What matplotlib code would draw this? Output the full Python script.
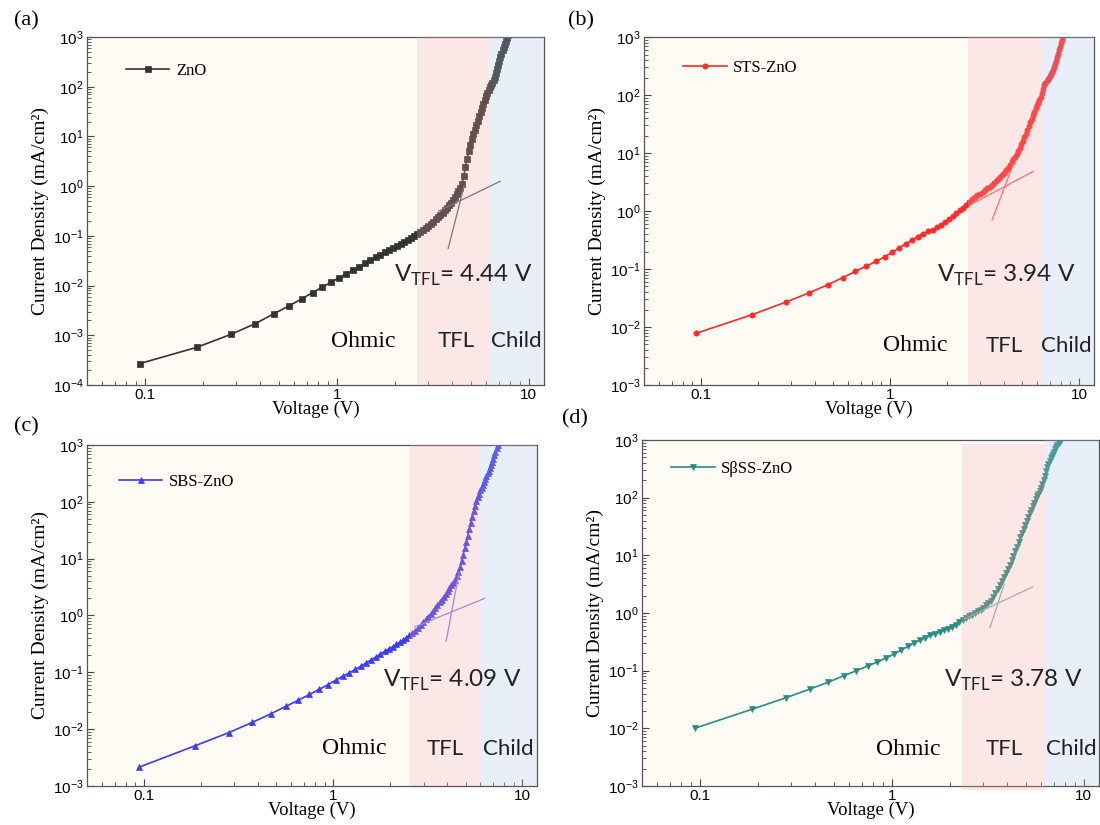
import matplotlib.pyplot as plt
import numpy as np
from matplotlib.ticker import NullFormatter

plt.rcParams['font.family'] = 'Liberation Sans'

# applied bias (V), same sweep for all four devices
voltage = [0.094, 0.187, 0.281, 0.374, 0.468, 0.561, 0.655, 0.748, 0.842, 0.935,
           1.029, 1.122, 1.216, 1.309, 1.403, 1.496, 1.590, 1.683, 1.777, 1.870,
           1.964, 2.057, 2.151, 2.244, 2.338, 2.431, 2.525, 2.618, 2.712, 2.805,
           2.899, 2.992, 3.086, 3.179, 3.273, 3.366, 3.460, 3.553, 3.647, 3.740,
           3.834, 3.927, 4.021, 4.114, 4.208, 4.301, 4.395, 4.488, 4.582, 4.675,
           4.769, 4.862, 4.956, 5.049, 5.143, 5.236, 5.330, 5.423, 5.517, 5.610,
           5.704, 5.797, 5.891, 5.984, 6.078, 6.171, 6.265, 6.358, 6.452, 6.545,
           6.639, 6.732, 6.826, 6.919, 7.013, 7.106, 7.200, 7.293, 7.387, 7.480,
           7.574, 7.667, 7.761, 7.854, 7.948, 8.041, 8.135, 8.228, 8.322]

# log10 of current density (mA/cm2)
log_j_zno = [-3.57, -3.24, -2.98, -2.77, -2.57, -2.41, -2.27, -2.14, -2.03, -1.93,
             -1.84, -1.76, -1.69, -1.62, -1.55, -1.49, -1.43, -1.38, -1.33, -1.29,
             -1.24, -1.20, -1.16, -1.12, -1.08, -1.05, -1.01, -0.97, -0.93, -0.89,
             -0.85, -0.81, -0.76, -0.72, -0.67, -0.63, -0.58, -0.53, -0.48, -0.43,
             -0.38, -0.33, -0.28, -0.22, -0.16, -0.10, -0.04, 0.05, 0.20, 0.38,
             0.55, 0.70, 0.83, 0.95, 1.05, 1.14, 1.23, 1.32, 1.41, 1.50,
             1.58, 1.66, 1.74, 1.81, 1.88, 1.94, 1.99, 2.04, 2.08, 2.13,
             2.20, 2.28, 2.36, 2.44, 2.52, 2.59, 2.66, 2.73, 2.80, 2.86,
             2.92, 2.98, 3.04, 3.10]

log_j_sts = [-2.11, -1.785, -1.57, -1.41, -1.27, -1.15, -1.04, -0.95, -0.87, -0.79,
             -0.71, -0.63, -0.56, -0.50, -0.44, -0.39, -0.35, -0.32, -0.28, -0.24,
             -0.19, -0.14, -0.09, -0.04, 0.01, 0.06, 0.11, 0.16, 0.20, 0.24,
             0.27, 0.30, 0.33, 0.36, 0.39, 0.42, 0.45, 0.48, 0.52, 0.55,
             0.58, 0.62, 0.66, 0.70, 0.74, 0.79, 0.84, 0.89, 0.94, 0.99,
             1.04, 1.09, 1.15, 1.21, 1.27, 1.33, 1.40, 1.47, 1.53, 1.59,
             1.65, 1.71, 1.77, 1.82, 1.87, 1.92, 1.97, 2.04, 2.11, 2.17,
             2.21, 2.24, 2.27, 2.30, 2.33, 2.36, 2.39, 2.43, 2.48, 2.53,
             2.59, 2.65, 2.71, 2.77, 2.83, 2.89, 2.95, 3.01, 3.07]

log_j_sbs = [-2.67, -2.29, -2.06, -1.88, -1.73, -1.60, -1.49, -1.39, -1.30, -1.22,
             -1.14, -1.07, -1.01, -0.95, -0.89, -0.83, -0.78, -0.73, -0.68, -0.63,
             -0.59, -0.55, -0.51, -0.47, -0.43, -0.39, -0.35, -0.31, -0.27, -0.22,
             -0.17, -0.12, -0.07, -0.02, 0.03, 0.08, 0.13, 0.18, 0.23, 0.28,
             0.33, 0.38, 0.43, 0.48, 0.53, 0.58, 0.63, 0.69, 0.76, 0.85,
             0.96, 1.07, 1.18, 1.29, 1.40, 1.52, 1.63, 1.74, 1.84, 1.93,
             2.01, 2.08, 2.14, 2.20, 2.25, 2.30, 2.35, 2.40, 2.45, 2.50,
             2.55, 2.60, 2.65, 2.70, 2.76, 2.82, 2.88, 2.94, 3.00, 3.06]

log_j_sbss = [-2.00, -1.67, -1.47, -1.32, -1.20, -1.09, -1.00, -0.92, -0.85, -0.78,
              -0.71, -0.64, -0.58, -0.52, -0.47, -0.43, -0.39, -0.36, -0.33, -0.30,
              -0.27, -0.24, -0.20, -0.16, -0.12, -0.09, -0.06, -0.03, 0.00, 0.03,
              0.06, 0.09, 0.13, 0.17, 0.21, 0.27, 0.34, 0.41, 0.48, 0.55,
              0.62, 0.69, 0.76, 0.83, 0.91, 0.99, 1.07, 1.15, 1.23, 1.31,
              1.39, 1.46, 1.53, 1.60, 1.67, 1.73, 1.79, 1.85, 1.91, 1.97,
              2.02, 2.07, 2.12, 2.17, 2.23, 2.30, 2.38, 2.46, 2.53, 2.59,
              2.64, 2.68, 2.72, 2.76, 2.80, 2.84, 2.88, 2.91, 2.94, 2.97,
              3.00, 3.03, 3.06]

# fitting lines: (V start, V end), (logJ start, logJ end)
fit_ohm_v = [(3.4, 7.1), (2.7, 5.7), (2.7, 6.3), (2.4, 5.4)]
fit_ohm_j = [(-0.5, 0.1), (0.12, 0.68), (-0.2, 0.3), (-0.10, 0.45)]
fit_tfl_v = [(3.8, 4.6), (3.47, 4.5), (3.95, 4.62), (3.25, 3.85)]
fit_tfl_j = [(-1.25, 0.0), (-0.15, 0.82), (-0.45, 0.75), (-0.25, 0.5)]

names = ['ZnO', 'STS-ZnO', 'SBS-ZnO', 'S\u03b2SS-ZnO']
vtfl_labels = ['4.44', '3.94', '4.09', '3.78']
tfl_start = [2.63, 2.6, 2.53, 2.32]
child_start = [6.2, 6.3, 6.0, 6.3]
y_low_exp = [-4, -3, -3, -3]

colors = ['#333333', '#ff2a2a', '#3c3cf0', '#2a8c82']
fit_colors = ['#7a7a7a', '#ff7070', '#9a8ae6', '#a8a8a8']
markers = ['s', 'o', '^', 'v']
all_j = [log_j_zno, log_j_sts, log_j_sbs, log_j_sbss]

rects = [[0.0791, 0.5333, 0.4155, 0.4218],
         [0.5855, 0.5333, 0.4091, 0.4218],
         [0.0791, 0.0473, 0.4095, 0.4133],
         [0.5836, 0.0473, 0.4155, 0.4194]]
panel_tags = ['(a)', '(b)', '(c)', '(d)']
tag_pos = [(0.024, 0.975), (0.528, 0.975), (0.024, 0.483), (0.523, 0.492)]
leg_pos = [(0.085, 0.926), (0.087, 0.935), (0.071, 0.914), (0.064, 0.940)]
ohm_pos = [(0.604, 0.126), (0.602, 0.113), (0.593, 0.109), (0.582, 0.106)]
tfl_x = [0.808, 0.800, 0.796, 0.793]
child_x = [0.939, 0.938, 0.936, 0.939]
vtfl_pos = [(0.823, 0.315), (0.805, 0.314), (0.811, 0.31), (0.812, 0.305)]

fig = plt.figure(figsize=(11, 8.25), dpi=100)

for i in range(4):
    ax = fig.add_axes(rects[i])
    ax.set_xscale('log')
    ax.set_yscale('log')

    ax.axvspan(0.05, tfl_start[i], color='#fdfbf3', lw=0, zorder=0)
    if i == 3:
        pink = ax.axvspan(tfl_start[i], child_start[i], ymin=-0.013, ymax=0.988,
                          color=(0.97, 0.64, 0.64), alpha=0.25, lw=0, zorder=3)
        pink.set_clip_on(False)
    else:
        ax.axvspan(tfl_start[i], child_start[i], color=(0.97, 0.64, 0.64),
                   alpha=0.25, lw=0, zorder=3)
    ax.axvspan(child_start[i], 12, color=(0.67, 0.76, 0.91), alpha=0.25, lw=0, zorder=3)

    j = np.power(10.0, all_j[i])
    v = voltage[:len(j)]
    ax.plot(v, j, color=colors[i], marker=markers[i], ms=3.8, lw=1.2,
            markeredgewidth=0.5, label=names[i], zorder=2)

    ax.plot(fit_ohm_v[i], np.power(10.0, fit_ohm_j[i]), color=fit_colors[i], lw=0.9, zorder=4)
    ax.plot(fit_tfl_v[i], np.power(10.0, fit_tfl_j[i]), color=fit_colors[i], lw=0.9, zorder=4)

    # ticks kept strictly inside the view range
    decades = list(range(y_low_exp[i], 4))
    ax.set_yticks([10.0 ** k for k in decades])
    ax.set_yticks([m * 10.0 ** k for k in decades[:-1] for m in range(2, 10)], minor=True)
    ax.yaxis.set_minor_formatter(NullFormatter())
    ax.set_xticks([0.1, 1, 10])
    ax.set_xticklabels(['0.1', '1', '10'])
    ax.set_xticks([m * 0.01 for m in range(6, 10)] + [m * 0.1 for m in range(2, 10)]
                  + [m * 1.0 for m in range(2, 10)], minor=True)
    ax.xaxis.set_minor_formatter(NullFormatter())
    ax.set_xlim(0.05, 12)
    ax.set_ylim(10.0 ** y_low_exp[i], 1e3)

    ax.tick_params(which='both', direction='in', top=False, right=False,
                   labelsize=11, color='#444444', pad=2.5)
    ax.tick_params(which='major', length=5, width=0.8)
    ax.tick_params(which='minor', length=3, width=0.6)
    for s in ax.spines.values():
        s.set_color('#555555')
        s.set_linewidth(0.9)

    ax.set_xlabel('Voltage (V)', family='Liberation Serif', fontsize=13.5, labelpad=-1)
    ax.set_ylabel('Current Density (mA/cm\u00b2)', family='Liberation Serif',
                  fontsize=14, labelpad=3)

    ax.legend(loc='upper left', bbox_to_anchor=leg_pos[i], frameon=False,
              borderaxespad=0, borderpad=0, handlelength=2.6, handletextpad=0.4,
              prop={'family': 'Liberation Serif', 'size': 12})

    ax.text(ohm_pos[i][0], ohm_pos[i][1], 'Ohmic', transform=ax.transAxes,
            family='Liberation Serif', fontsize=17, ha='center', va='center', zorder=6)
    ax.text(tfl_x[i], ohm_pos[i][1], 'TFL', transform=ax.transAxes,
            family='Lato', fontsize=16, ha='center', va='center', color='#222222', zorder=6)
    ax.text(child_x[i], ohm_pos[i][1], 'Child', transform=ax.transAxes,
            family='Lato', fontsize=16, ha='center', va='center', color='#222222', zorder=6)
    ax.text(vtfl_pos[i][0], vtfl_pos[i][1],
            'V$_{\\mathregular{TFL}}$= ' + vtfl_labels[i] + ' V',
            transform=ax.transAxes, family='Lato', fontsize=17.5,
            ha='center', va='center', color='#222222', zorder=6)

    fig.text(tag_pos[i][0], tag_pos[i][1], panel_tags[i], family='Liberation Serif',
             fontsize=16, ha='center', va='center')

fig.savefig('out.png', dpi=100)
